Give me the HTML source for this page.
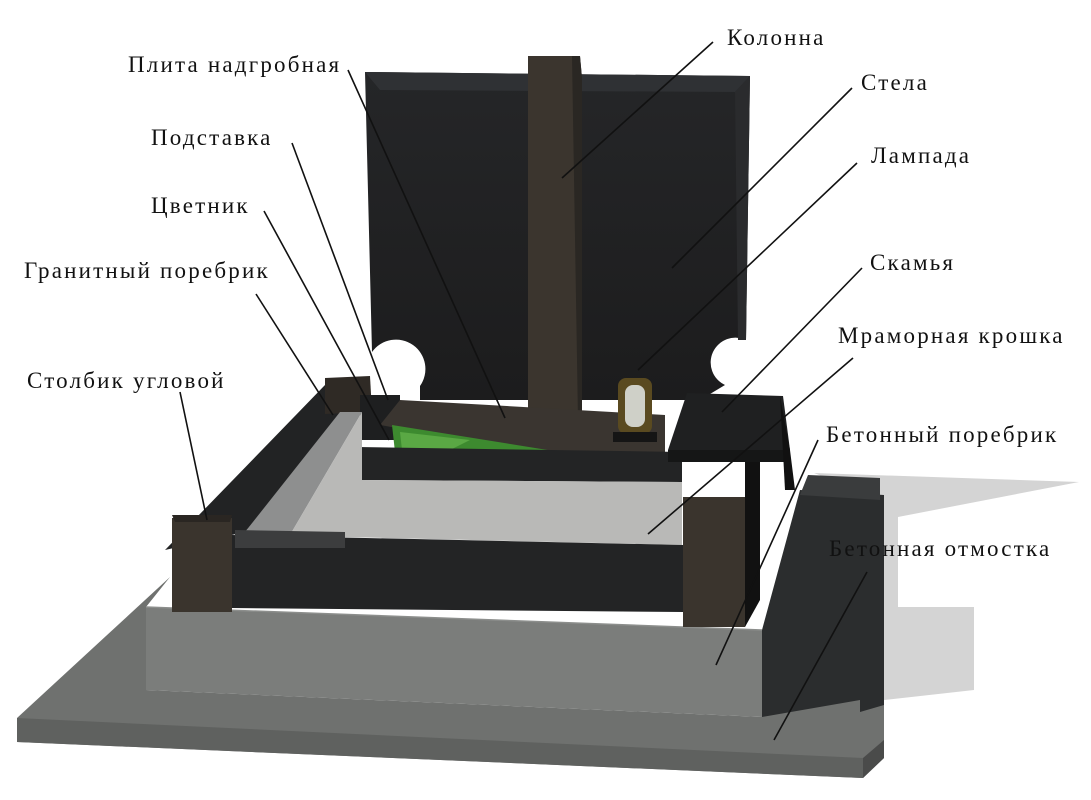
<!DOCTYPE html>
<html><head><meta charset="utf-8"><style>
html,body{margin:0;padding:0;background:#fff;}
svg{display:block}
text{font-family:"Liberation Serif",serif;font-size:23px;fill:#111;letter-spacing:2.2px}
</style></head><body>
<svg width="1091" height="800" viewBox="0 0 1091 800" xmlns="http://www.w3.org/2000/svg">
<defs>
<linearGradient id="stele" x1="0" y1="0" x2="0" y2="1"><stop offset="0" stop-color="#252628"/><stop offset="1" stop-color="#1c1c1d"/></linearGradient>
</defs>
<!-- light shadow -->
<polygon points="814,473 1079,482 898,517 898,607 974,607 974,690 884,700 884,500" fill="#d4d4d4"/>
<!-- outer concrete slab -->
<polygon points="170,577 146,607 146,690 762,717 800,600 884,500 884,758 863,778 17,742 17,718" fill="#6f716f"/>
<polygon points="17,718 863,758 863,778 17,742" fill="#5f615f"/>
<polygon points="863,758 884,740 884,758 863,778" fill="#4a4b4a"/>
<!-- plinth front -->
<polygon points="146,607 762,630 762,717 146,690" fill="#7b7d7b"/>
<line x1="146" y1="607" x2="762" y2="630" stroke="#8c8e8c" stroke-width="1.5"/>
<!-- plinth right dark face -->
<polygon points="762,630 800,490 884,495 884,705 860,712 860,700 762,717" fill="#2b2d2e"/>
<polygon points="808,475 880,478 880,500 800,495" fill="#3a3c3d"/>
<!-- stele -->
<path d="M365,72 L750,76 L746,340 A24,24 0 0 0 725,385 L700,400 L420,400 L420,386 A25,25 0 0 0 372,352 Z" fill="url(#stele)"/>
<polygon points="365,72 750,76 735,92 380,90" fill="#2f3134"/>
<polygon points="735,92 750,76 746,340 738,340" fill="#2a2b2d"/>
<!-- column -->
<polygon points="528,56 580,56 582,78 582,420 528,420" fill="#3b352e"/>
<polygon points="572,56 580,56 582,78 582,420 578,420" fill="#2a2723"/>
<!-- left border side & posts back -->
<polygon points="165,550 325,385 362,395 245,532" fill="#222324"/>
<polygon points="325,378 370,376 372,412 325,414" fill="#2f2a25"/>
<polygon points="360,395 400,395 400,440 360,440" fill="#1e1f20"/>
<!-- gravel strip left -->
<polygon points="245,532 340,412 362,412 290,535" fill="#8e8f8f"/>
<!-- plita -->
<polygon points="400,400 665,415 665,458 560,458 380,425" fill="#3a3530"/>
<!-- green -->
<polygon points="392,425 560,452 395,452" fill="#3d8a2f"/>
<polygon points="400,432 470,440 450,450 402,450" fill="#5aa844"/>
<!-- flower bed front -->
<polygon points="357,447 682,452 682,482 357,480" fill="#232425"/>
<!-- gravel -->
<polygon points="290,535 362,412 362,480 682,482 682,545 260,535" fill="#b9b9b7"/>
<!-- bench -->
<polygon points="687,393 783,396 790,450 668,450" fill="#1f2021"/>
<polygon points="668,450 790,450 790,462 668,462" fill="#151616"/>
<polygon points="780,396 790,450 795,490 785,490" fill="#111"/>
<!-- lamp -->
<rect x="618" y="378" width="34" height="56" rx="8" fill="#5a4a20"/>
<rect x="625" y="385" width="20" height="42" rx="8" fill="#cfd0c8"/>
<rect x="613" y="432" width="44" height="10" fill="#151515"/>
<!-- front border -->
<polygon points="232,535 683,545 683,612 232,608" fill="#232425"/>
<polygon points="235,530 345,532 345,548 235,548" fill="#3c3d3e"/>
<!-- posts -->
<polygon points="172,518 232,518 232,612 172,612" fill="#3a342d"/>
<polygon points="172,515 232,515 230,522 175,522" fill="#2a2622"/>
<polygon points="683,497 745,497 745,627 683,627" fill="#3a342d"/>
<polygon points="745,462 760,462 760,600 745,627" fill="#111"/>
<!-- leader lines -->
<g stroke="#111" stroke-width="1.6" fill="none">
<line x1="713" y1="42" x2="562" y2="178"/>
<line x1="348" y1="70" x2="505" y2="418"/>
<line x1="852" y1="88" x2="672" y2="268"/>
<line x1="292" y1="143" x2="388" y2="400"/>
<line x1="857" y1="163" x2="638" y2="370"/>
<line x1="264" y1="211" x2="389" y2="440"/>
<line x1="256" y1="294" x2="333" y2="415"/>
<line x1="862" y1="268" x2="722" y2="412"/>
<line x1="853" y1="358" x2="648" y2="534"/>
<line x1="180" y1="392" x2="207" y2="520"/>
<line x1="818" y1="440" x2="716" y2="665"/>
<line x1="867" y1="572" x2="774" y2="740"/>
</g>
<!-- labels -->
<text x="727" y="45">Колонна</text>
<text x="128" y="72">Плита надгробная</text>
<text x="861" y="90">Стела</text>
<text x="151" y="145">Подставка</text>
<text x="871" y="163">Лампада</text>
<text x="151" y="213">Цветник</text>
<text x="24" y="278">Гранитный поребрик</text>
<text x="870" y="270">Скамья</text>
<text x="838" y="343">Мраморная крошка</text>
<text x="27" y="388">Столбик угловой</text>
<text x="826" y="442">Бетонный поребрик</text>
<text x="829" y="556">Бетонная отмостка</text>
</svg>
</body></html>
